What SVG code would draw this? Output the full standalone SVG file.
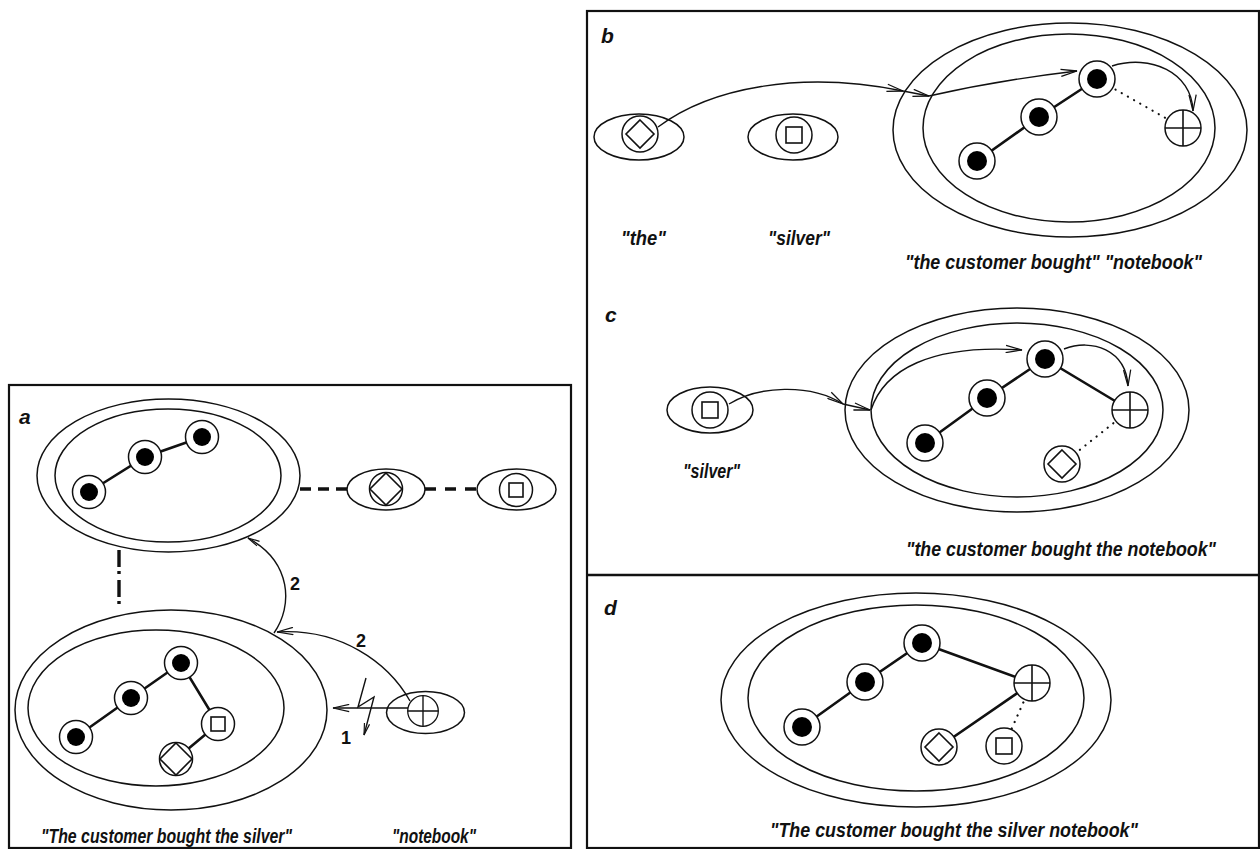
<svg xmlns="http://www.w3.org/2000/svg" width="1260" height="849" viewBox="0 0 1260 849">
<defs>
<style>
.frame{fill:none;stroke:#111;stroke-width:2.2}
.ell{fill:none;stroke:#111;stroke-width:1.5}
.ring{fill:#fff;stroke:#111;stroke-width:1.5}
.dot{fill:#000}
.edge{stroke:#111;stroke-width:2.6;fill:none}
.dots{stroke:#111;stroke-width:2.2;stroke-dasharray:0.1 7;stroke-linecap:round;fill:none}
.arr{fill:none;stroke:#111;stroke-width:1.4}
.sym{fill:none;stroke:#111;stroke-width:1.6}
.lbl{font-family:"Liberation Sans Narrow","Liberation Sans",Arial,sans-serif;font-weight:bold;font-style:italic;fill:#111}
.num{font-family:"Liberation Sans Narrow","Liberation Sans",Arial,sans-serif;font-weight:bold;fill:#111;font-size:18px}
.link{fill:none;stroke:#111;stroke-width:3.4}
</style>
<linearGradient id="fade" x1="0" x2="1" y1="0" y2="0">
<stop offset="0" stop-color="#111"/><stop offset="0.12" stop-color="#999"/><stop offset="0.88" stop-color="#999"/><stop offset="1" stop-color="#111"/>
</linearGradient>
<marker id="ah" viewBox="0 0 20 10" refX="19" refY="5" markerWidth="18" markerHeight="9" markerUnits="userSpaceOnUse" orient="auto"><path d="M1,1 L19,5 L1,9" fill="none" stroke="#111" stroke-width="1.4"/></marker>
<marker id="ahs" viewBox="0 0 20 10" refX="19" refY="5" markerWidth="13" markerHeight="7" markerUnits="userSpaceOnUse" orient="auto"><path d="M1,1 L19,5 L1,9" fill="none" stroke="#111" stroke-width="1.8"/></marker>
<!-- node glyphs -->
<g id="nDot"><circle r="18" class="ring"/><circle r="10" class="dot"/></g>
<g id="nPlus"><circle r="18" class="ring"/><path d="M-18,0H18M0,-18V18" class="sym"/></g>
<g id="nDia"><circle r="18" class="ring"/><path d="M0,-14L14,0L0,14L-14,0Z" class="sym"/></g>
<g id="nSq"><circle r="18" class="ring"/><rect x="-8" y="-8" width="16" height="16" class="sym"/></g>
<g id="nDiaA"><circle r="16.5" class="ring"/><path d="M0,-16L16,0L0,16L-16,0Z" class="sym"/></g>
<g id="nSqA"><circle r="16.5" class="ring"/><rect x="-7" y="-7" width="14" height="14" class="sym"/></g>
<g id="nDotA"><circle r="16.5" class="ring"/><circle r="9" class="dot"/></g>
</defs>

<rect width="1260" height="849" fill="#fff"/>

<!-- frames -->
<g id="frames">
<rect x="9" y="385" width="562" height="463" class="frame"/>
<rect x="587" y="11" width="672" height="837" class="frame"/>
<line x1="587" y1="284" x2="1259" y2="284" stroke="url(#fade)" stroke-width="2.6"/>
<line x1="587" y1="575" x2="1259" y2="575" stroke="#111" stroke-width="2.4"/>
</g>

<!-- panel a -->
<g id="panel-a">
<text x="19" y="424" font-size="21" class="lbl">a</text>
<g id="a-top">
<ellipse cx="168.5" cy="475.5" rx="131.5" ry="76.5" class="ell"/>
<ellipse cx="168" cy="475.5" rx="113" ry="66.5" class="ell"/>
<path d="M89,492L145,457L202,437" class="edge"/>
<use href="#nDotA" x="89" y="492"/>
<use href="#nDotA" x="145" y="457"/>
<use href="#nDotA" x="202" y="437"/>
</g>
<g id="a-the">
<ellipse cx="386" cy="489.5" rx="39" ry="20.5" class="ell"/>
<use href="#nDiaA" x="386" y="489"/>
</g>
<g id="a-silver">
<ellipse cx="516.5" cy="489.5" rx="39.5" ry="20.5" class="ell"/>
<use href="#nSqA" x="516" y="490"/>
</g>
<g id="a-bottom">
<ellipse cx="171" cy="710" rx="156" ry="100" class="ell"/>
<ellipse cx="156" cy="708" rx="128" ry="78" class="ell"/>
<path d="M76,737L131,698L181,663L218,724L176,759" class="edge"/>
<use href="#nDotA" x="76" y="737"/>
<use href="#nDotA" x="131" y="698"/>
<use href="#nDotA" x="181" y="663"/>
<use href="#nSqA" x="218" y="724"/>
<use href="#nDiaA" x="176" y="759"/>
</g>
<g id="a-notebook">
<ellipse cx="425.5" cy="712.5" rx="39" ry="21" class="ell"/>
<use href="#nPlus" transform="translate(423 711) scale(0.85)"/>
</g>
<g id="a-connectors">
<line x1="300" y1="489" x2="347" y2="489" class="link" stroke-dasharray="11 7"/>
<line x1="425" y1="489" x2="477" y2="489" class="link" stroke-dasharray="11 9"/>
<line x1="119" y1="550" x2="119" y2="610" class="link" stroke-width="3" stroke-dasharray="17 4 3 6"/>
<path d="M274,633C293,606 292,562 248,538" class="arr" marker-end="url(#ahs)"/>
<path d="M410,701C388,662 340,628 277,632" class="arr" marker-end="url(#ah)"/>
<path d="M408,708L333,708" class="arr" marker-end="url(#ah)"/>
<path d="M366,678L358,707L374,697L364,735" class="arr" stroke-width="1.1" marker-end="url(#ahs)"/>
</g>
<text x="290" y="590" class="num">2</text>
<text x="356" y="647" class="num">2</text>
<text x="341" y="744" class="num">1</text>
<text x="41" y="843" font-size="21" textLength="251" lengthAdjust="spacingAndGlyphs" class="lbl">"The customer bought the silver"</text>
<text x="392" y="843" font-size="21" textLength="84" lengthAdjust="spacingAndGlyphs" class="lbl">"notebook"</text>
</g>

<!-- panel b -->
<g id="panel-b">
<text x="601" y="43" font-size="21" class="lbl">b</text>
<g id="b-the">
<ellipse cx="639" cy="137" rx="45" ry="23" class="ell"/>
<use href="#nDia" x="640" y="134"/>
</g>
<g id="b-silver">
<ellipse cx="793" cy="137" rx="45" ry="23" class="ell"/>
<use href="#nSq" x="794" y="135"/>
</g>
<g id="b-tree">
<ellipse cx="1070" cy="130" rx="177" ry="107" class="ell"/>
<ellipse cx="1069" cy="128" rx="146" ry="94" class="ell"/>
<path d="M977,161L1039,117L1097,79" class="edge"/>
<line x1="1097" y1="79" x2="1183" y2="128" class="dots"/>
<use href="#nDot" x="977" y="161"/>
<use href="#nDot" x="1039" y="117"/>
<use href="#nDot" x="1097" y="79"/>
<use href="#nPlus" x="1183" y="128"/>
</g>
<g id="b-connectors">
<path d="M658,127C710,88 800,70 903,91" class="arr" marker-end="url(#ah)"/>
<path d="M903,91L929,96" class="arr" marker-end="url(#ah)"/>
<path d="M929,96Q1000,80 1077,71" class="arr" marker-end="url(#ah)"/>
<path d="M1112,66C1150,54 1192,72 1193,111" class="arr" marker-end="url(#ah)"/>
</g>
<text x="621" y="245" font-size="21" textLength="45" lengthAdjust="spacingAndGlyphs" class="lbl">"the"</text>
<text x="768" y="245" font-size="21" textLength="62" lengthAdjust="spacingAndGlyphs" class="lbl">"silver"</text>
<text x="905" y="269" font-size="21" textLength="297" lengthAdjust="spacingAndGlyphs" class="lbl">"the customer bought" "notebook"</text>
</g>

<!-- panel c -->
<g id="panel-c">
<text x="605" y="322" font-size="21" class="lbl">c</text>
<g id="c-silver">
<ellipse cx="710" cy="410" rx="43" ry="23" class="ell"/>
<use href="#nSq" x="710" y="410"/>
</g>
<g id="c-tree">
<ellipse cx="1017" cy="410" rx="172" ry="102" class="ell"/>
<ellipse cx="1017" cy="410" rx="146" ry="87" class="ell"/>
<path d="M925,443L987,398L1045,359L1130,410" class="edge"/>
<line x1="1130" y1="410" x2="1062" y2="464" class="dots"/>
<use href="#nDot" x="925" y="443"/>
<use href="#nDot" x="987" y="398"/>
<use href="#nDot" x="1045" y="359"/>
<use href="#nPlus" x="1130" y="410"/>
<use href="#nDia" x="1062" y="464"/>
</g>
<g id="c-connectors">
<path d="M729,404C758,386 810,383 843,404" class="arr" marker-end="url(#ah)"/>
<path d="M843,404L870,410" class="arr" marker-end="url(#ah)"/>
<path d="M871,410C884,370 930,344 1022,350" class="arr" marker-end="url(#ah)"/>
<path d="M1064,349C1092,338 1126,350 1128,386" class="arr" marker-end="url(#ah)"/>
</g>
<text x="683" y="478" font-size="21" textLength="57" lengthAdjust="spacingAndGlyphs" class="lbl">"silver"</text>
<text x="906" y="556" font-size="20" textLength="310" lengthAdjust="spacingAndGlyphs" class="lbl">"the customer bought the notebook"</text>
</g>

<!-- panel d -->
<g id="panel-d">
<text x="604" y="615" font-size="21" class="lbl">d</text>
<g id="d-tree">
<ellipse cx="916" cy="700" rx="195" ry="107" class="ell"/>
<ellipse cx="916" cy="698" rx="168" ry="93" class="ell"/>
<path d="M802,727L865,682L922,643L1032,683L939,747" class="edge"/>
<line x1="1032" y1="683" x2="1004" y2="746" class="dots"/>
<use href="#nDot" x="802" y="727"/>
<use href="#nDot" x="865" y="682"/>
<use href="#nDot" x="922" y="643"/>
<use href="#nPlus" x="1032" y="683"/>
<use href="#nDia" x="939" y="747"/>
<use href="#nSq" x="1004" y="746"/>
</g>
<text x="770" y="837" font-size="21" textLength="368" lengthAdjust="spacingAndGlyphs" class="lbl">"The customer bought the silver notebook"</text>
</g>
</svg>
